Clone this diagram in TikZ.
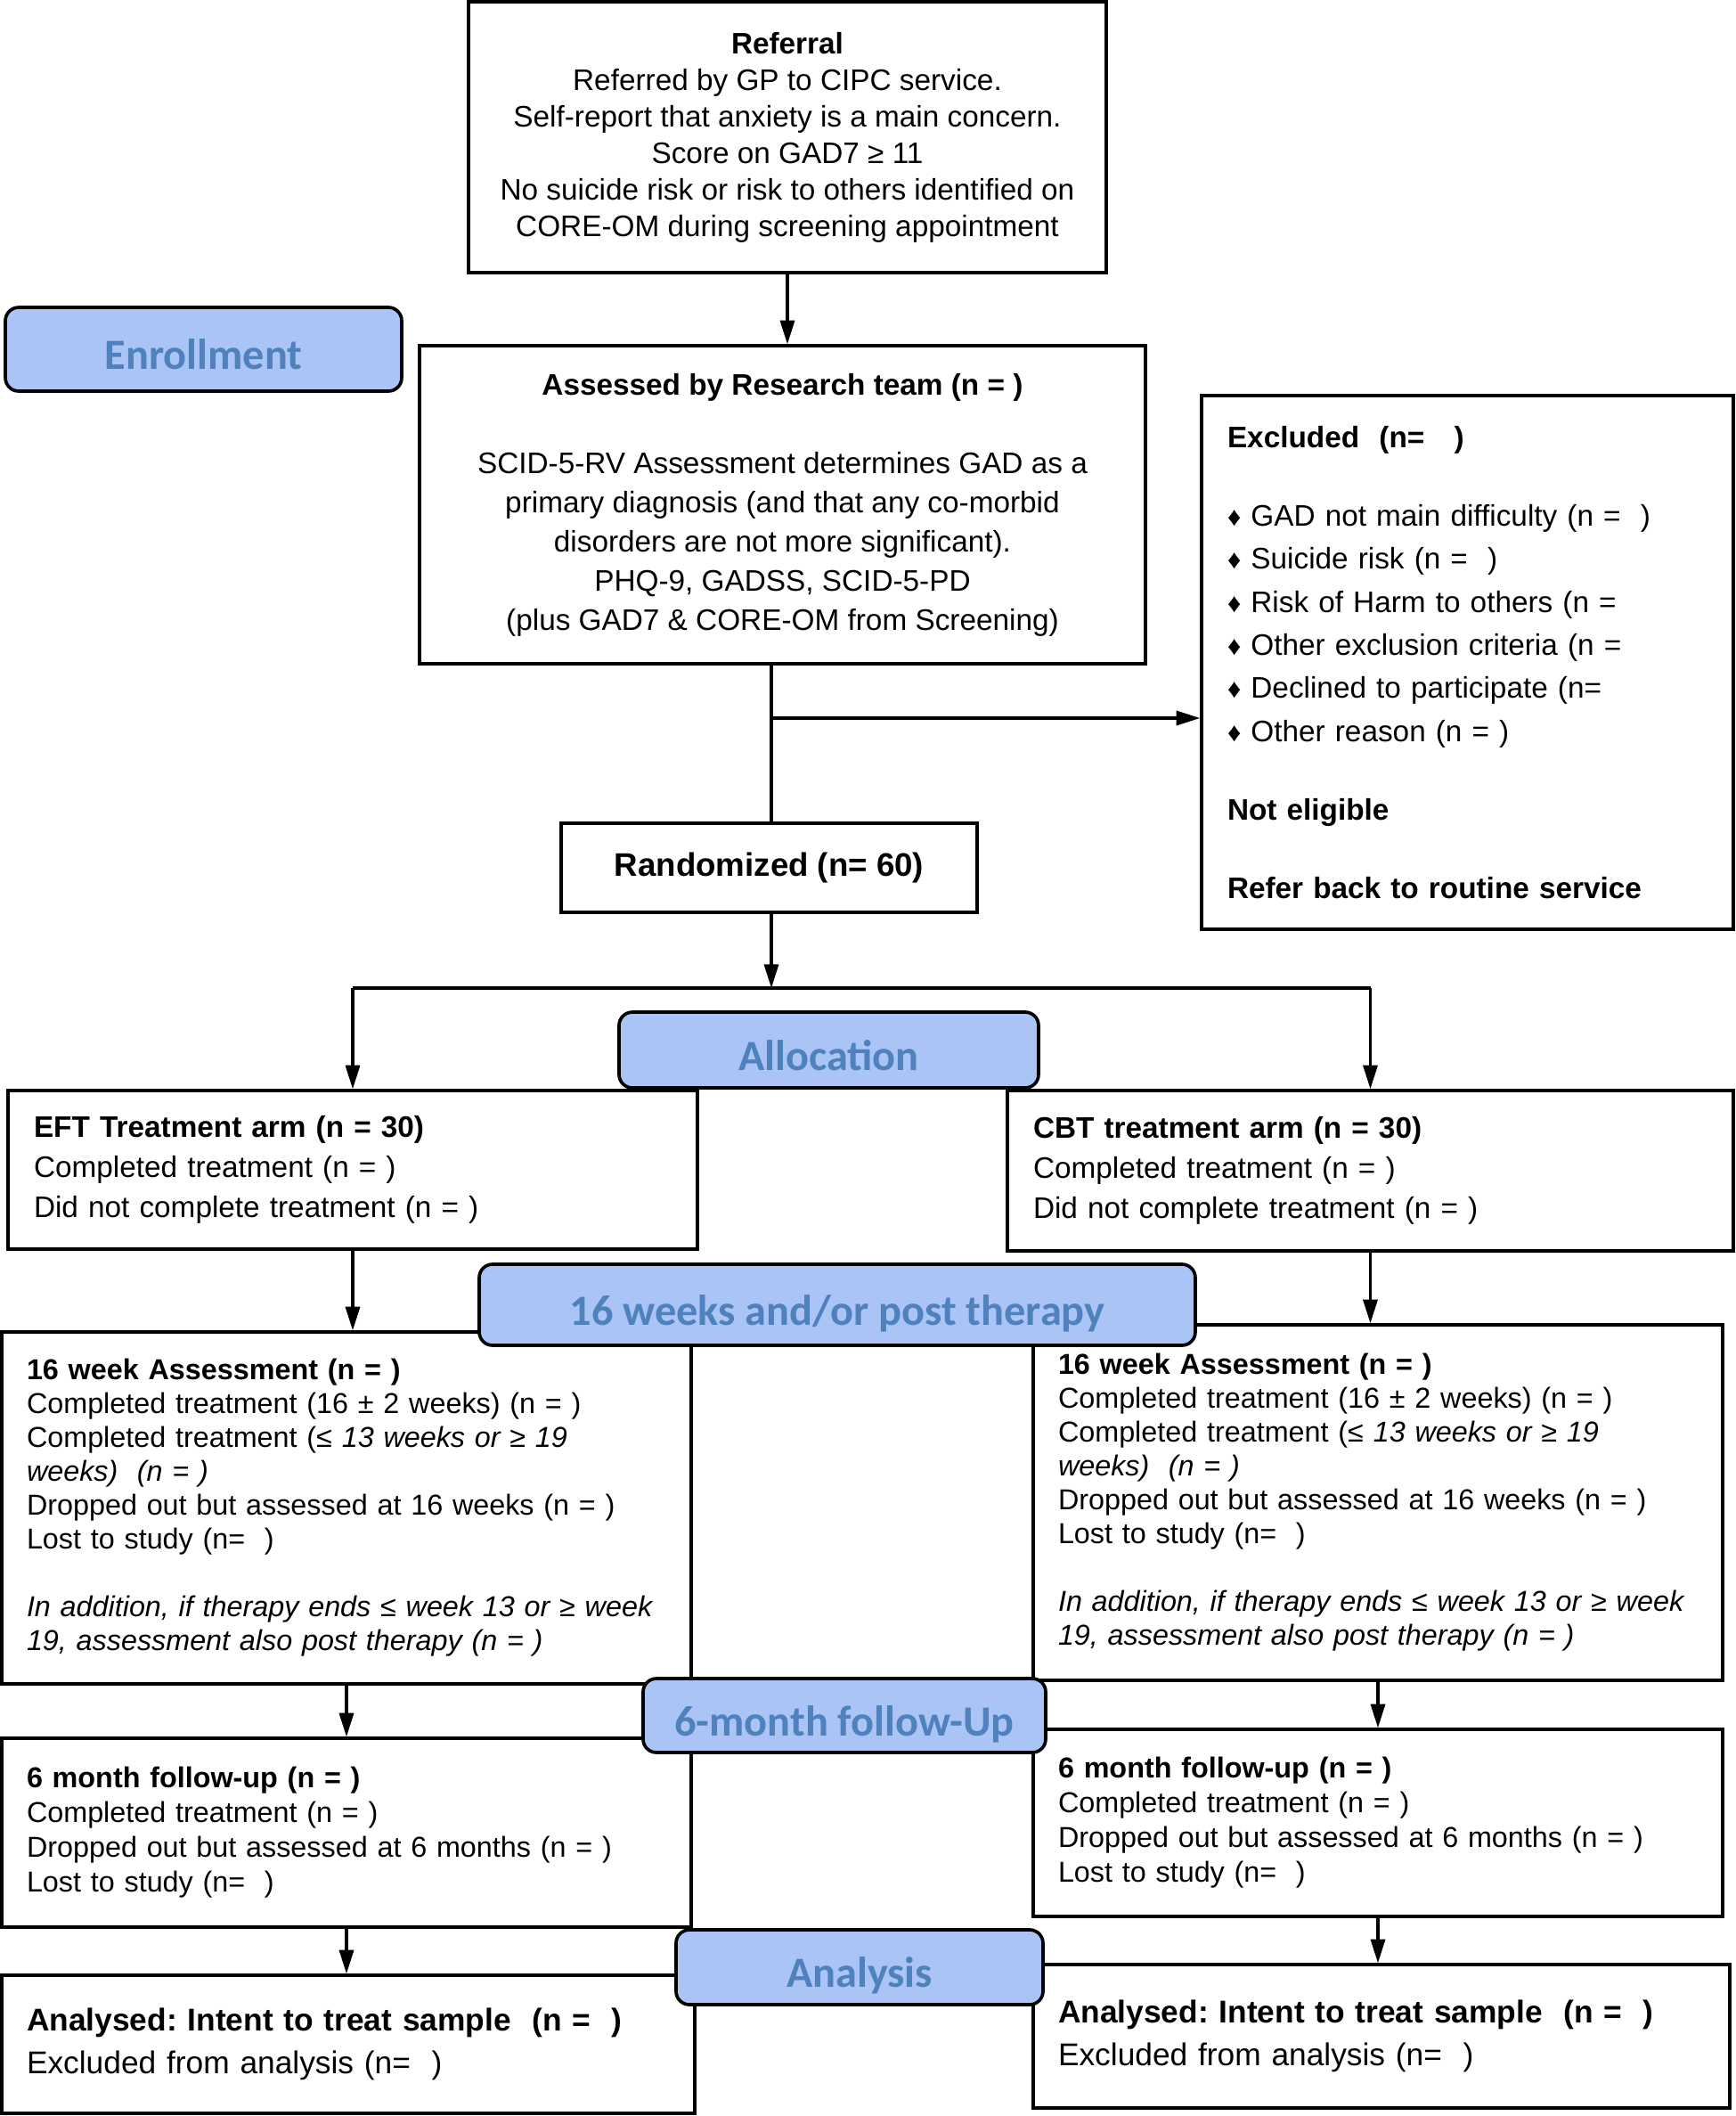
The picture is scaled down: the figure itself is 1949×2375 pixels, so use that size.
\documentclass[tikz,border=0pt]{standalone}
\usepackage{fontspec}
\setmainfont{Liberation Sans}
\newfontfamily\stagefont{Carlito}
\usepackage{tikz}
\usetikzlibrary{arrows.meta, positioning}
\frenchspacing

\definecolor{stagefill}{HTML}{A9C4F5}
\definecolor{stagetext}{HTML}{4F81BD}

\begin{document}
\begin{tikzpicture}[
    x=0.3pt, y=-0.3pt,
    >={Triangle[length=8pt, width=4.8pt]},
    box/.style={draw, line width=1pt, inner xsep=8.7pt, inner ysep=0pt, font=\fontsize{10}{12.3}\selectfont},
    leftbox/.style={box, align=left},
    stage/.style={draw, line width=1.1pt, rounded corners=4.5pt, fill=stagefill, text=stagetext, inner sep=0pt, text height=13.6pt, text depth=0pt, font=\stagefont\bfseries\fontsize{14.5}{17}\selectfont},
    link/.style={->, line width=1pt}
]

% Fix the page size
\useasboundingbox (0,0) rectangle (1949,2375);

% Screening and enrolment boxes
\node[box, align=center, minimum width=214.8pt, minimum height=91.2pt] (referral) at (884,154)
    {\textbf{Referral}\\Referred by GP to CIPC service.\\Self-report that anxiety is a main concern.\\Score on GAD7 ≥ 11\\No suicide risk or risk to others identified on\\CORE-OM during screening appointment};
\node[box, align=center, minimum width=244.5pt, minimum height=107.1pt, font=\fontsize{10}{13.2}\selectfont] (assess) at (878.5,566.5)
    {\textbf{Assessed by Research team (n = )}\\[13.2pt]SCID-5-RV Assessment determines GAD as a\\primary diagnosis (and that any co-morbid\\disorders are not more significant).\\PHQ-9, GADSS, SCID-5-PD\\(plus GAD7 \& CORE-OM from Screening)};
\node[leftbox, text width=161.7pt, minimum height=179.7pt, font=\fontsize{10}{14.5}\selectfont] (excl) at (1647.5,743.5)
    {\textbf{Excluded \ (n= \ \ )}\\[12pt]
     {\small♦}\ GAD not main difficulty (n = \ )\\
     {\small♦}\ Suicide risk (n = \ )\\
     {\small♦}\ Risk of Harm to others (n =\\
     {\small♦}\ Other exclusion criteria (n =\\
     {\small♦}\ Declined to participate (n=\\
     {\small♦}\ Other reason (n = )\\[12pt]
     \textbf{Not eligible}\\[12pt]
     \textbf{Refer back to routine service}};
\node[box, minimum width=140.1pt, minimum height=30pt, font=\fontsize{11}{13}\selectfont\bfseries] (rand) at (863.5,974) {Randomized (n= 60)};

% Treatment arms
\node[leftbox, text width=214.8pt, minimum height=53.4pt, font=\fontsize{10}{13.4}\selectfont] (eft) at (396,1313)
    {\textbf{EFT Treatment arm (n = 30)}\\Completed treatment (n = )\\Did not complete treatment (n = )};
\node[leftbox, text width=227.1pt, minimum height=54pt, font=\fontsize{10}{13.4}\selectfont] (cbt) at (1538.5,1314)
    {\textbf{CBT treatment arm (n = 30)}\\Completed treatment (n = )\\Did not complete treatment (n = )};

% 16 week assessments
\node[leftbox, text width=215.4pt, inner xsep=8.4pt, minimum height=118.5pt, font=\fontsize{9.7}{11.4}\selectfont] (wkL) at (389,1692.5)
    {\textbf{16 week Assessment (n = )}\\Completed treatment (16 ± 2 weeks) (n = )\\Completed treatment (≤ \textit{13 weeks or ≥ 19}\\\textit{weeks) \ (n = )}\\Dropped out but assessed at 16 weeks (n = )\\Lost to study (n= \ )\\[11.4pt]\textit{In addition, if therapy ends ≤ week 13 or ≥ week}\\\textit{19, assessment also post therapy (n = )}};
\node[leftbox, text width=215.4pt, inner xsep=8.4pt, minimum height=119.7pt, font=\fontsize{9.7}{11.4}\selectfont] (wkR) at (1547,1686.5)
    {\textbf{16 week Assessment (n = )}\\Completed treatment (16 ± 2 weeks) (n = )\\Completed treatment (≤ \textit{13 weeks or ≥ 19}\\\textit{weeks) \ (n = )}\\Dropped out but assessed at 16 weeks (n = )\\Lost to study (n= \ )\\[11.4pt]\textit{In addition, if therapy ends ≤ week 13 or ≥ week}\\\textit{19, assessment also post therapy (n = )}};

% 6 month follow-up
\node[leftbox, text width=215.4pt, inner xsep=8.4pt, minimum height=63.6pt, font=\fontsize{9.7}{11.7}\selectfont] (fuL) at (389,2057)
    {\textbf{6 month follow-up (n = )}\\Completed treatment (n = )\\Dropped out but assessed at 6 months (n = )\\Lost to study (n= \ )};
\node[leftbox, text width=215.4pt, inner xsep=8.4pt, minimum height=63pt, font=\fontsize{9.7}{11.7}\selectfont] (fuR) at (1547,2046)
    {\textbf{6 month follow-up (n = )}\\Completed treatment (n = )\\Dropped out but assessed at 6 months (n = )\\Lost to study (n= \ )};

% Analysis
\node[leftbox, text width=216.6pt, inner xsep=8.4pt, minimum height=46.5pt, font=\fontsize{10.6}{14.5}\selectfont] (anL) at (391,2294.5)
    {\textbf{Analysed: Intent to treat sample \ (n = \ )}\\Excluded from analysis (n= \ )};
\node[leftbox, text width=217.8pt, inner xsep=8.4pt, minimum height=48.3pt, font=\fontsize{10.6}{14.5}\selectfont] (anR) at (1551,2285.5)
    {\textbf{Analysed: Intent to treat sample \ (n = \ )}\\Excluded from analysis (n= \ )};

% Draw connectors
\coordinate (branch) at (866,806);
\coordinate (fork) at (866,1109);
\draw[link] (referral.south) -- (referral.south |- assess.north);
\draw[line width=1pt] (branch |- assess.south) -- (branch |- rand.north);
\draw[link] (branch) -- (branch -| excl.west);
\draw[link] (branch |- rand.south) -- (fork);
\draw[line width=1.3pt] (eft.north |- fork) -- (cbt.north |- fork);
\draw[link] (eft.north |- fork) -- (eft.north);
\draw[link] (cbt.north |- fork) -- (cbt.north);
\draw[link] (eft.south) -- (eft.south |- wkL.north);
\draw[link] (cbt.south) -- (cbt.south |- wkR.north);
\draw[link] (wkL.south) -- (wkL.south |- fuL.north);
\draw[link] (wkR.south) -- (wkR.south |- fuR.north);
\draw[link] (fuL.south) -- (fuL.south |- anL.north);
\draw[link] (fuR.south) -- (fuR.south |- anR.north);

% Stage labels on top
\node[stage, minimum width=133.5pt, minimum height=28.2pt] (enroll) at (228.5,392) {Enrollment};
\node[stage, minimum width=141.3pt, minimum height=25.5pt] (alloc) at (930.5,1178.5) {Allocation};
\node[stage, minimum width=241.2pt, minimum height=27.3pt] (weeks) at (940,1464.5) {16 weeks and/or post therapy};
\node[stage, minimum width=135.6pt, minimum height=24.9pt] (follow) at (948,1925.5) {6-month follow-Up};
\node[stage, minimum width=123.6pt, minimum height=25.2pt] (analysis) at (965,2208) {Analysis};

\end{tikzpicture}
\end{document}
